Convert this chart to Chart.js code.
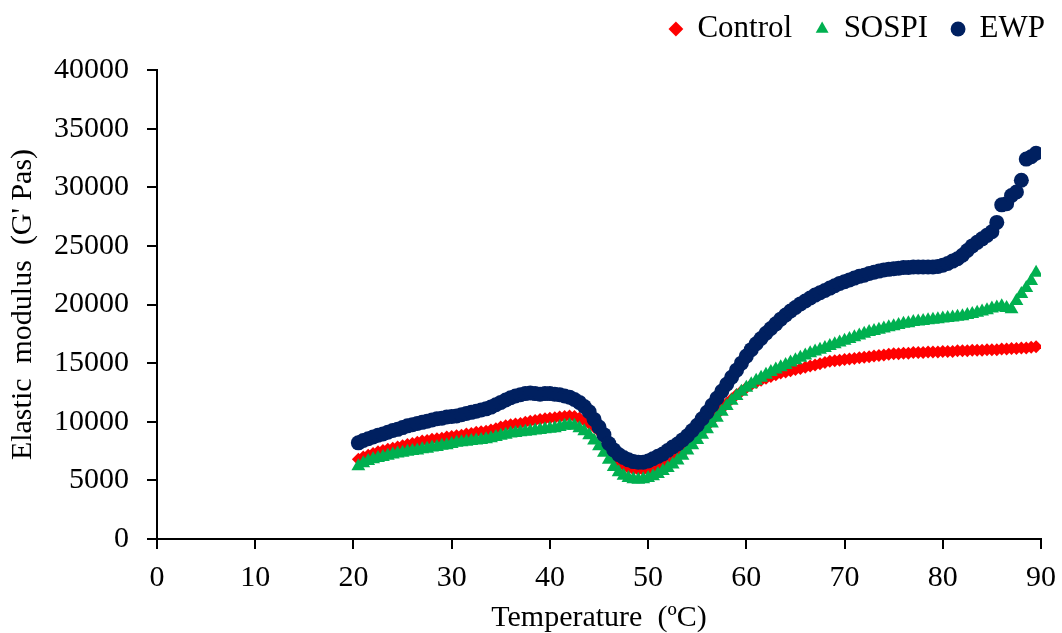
<!DOCTYPE html>
<html>
<head>
<meta charset="utf-8">
<script src="https://cdn.jsdelivr.net/npm/chart.js@4.4.1/dist/chart.umd.min.js"></script>
<style>
  html, body { margin: 0; padding: 0; background: #fff; }
</style>
</head>
<body>
<canvas id="modulusChart" width="1062" height="633"></canvas>
<script>
// temperature (ºC), one reading every 0.5 degree
const temps = [
  20.5, 21, 21.5, 22, 22.5, 23, 23.5, 24, 24.5, 25,
  25.5, 26, 26.5, 27, 27.5, 28, 28.5, 29, 29.5, 30,
  30.5, 31, 31.5, 32, 32.5, 33, 33.5, 34, 34.5, 35,
  35.5, 36, 36.5, 37, 37.5, 38, 38.5, 39, 39.5, 40,
  40.5, 41, 41.5, 42, 42.5, 43, 43.5, 44, 44.5, 45,
  45.5, 46, 46.5, 47, 47.5, 48, 48.5, 49, 49.5, 50,
  50.5, 51, 51.5, 52, 52.5, 53, 53.5, 54, 54.5, 55,
  55.5, 56, 56.5, 57, 57.5, 58, 58.5, 59, 59.5, 60,
  60.5, 61, 61.5, 62, 62.5, 63, 63.5, 64, 64.5, 65,
  65.5, 66, 66.5, 67, 67.5, 68, 68.5, 69, 69.5, 70,
  70.5, 71, 71.5, 72, 72.5, 73, 73.5, 74, 74.5, 75,
  75.5, 76, 76.5, 77, 77.5, 78, 78.5, 79, 79.5, 80,
  80.5, 81, 81.5, 82, 82.5, 83, 83.5, 84, 84.5, 85,
  85.5, 86, 86.5, 87, 87.5, 88, 88.5, 89, 89.5
];

const control = [
  6800, 7000, 7150, 7300, 7450, 7550, 7650, 7750, 7850, 7950,
  8050, 8150, 8250, 8350, 8400, 8500, 8550, 8600, 8700, 8750,
  8800, 8850, 8950, 9000, 9100, 9150, 9200, 9300, 9400, 9550,
  9650, 9750, 9800, 9850, 9950, 10050, 10100, 10200, 10250, 10300,
  10350, 10400, 10450, 10500, 10450, 10300, 10100, 9850, 9550, 9200,
  8600, 7900, 7200, 6700, 6300, 6050, 5950, 5900, 5900, 5900,
  5950, 6050, 6200, 6400, 6650, 7000, 7400, 7850, 8300, 8750,
  9200, 9650, 10150, 10650, 11100, 11550, 11950, 12300, 12600, 12900,
  13150, 13350, 13550, 13700, 13850, 14000, 14150, 14250, 14350, 14450,
  14550, 14650, 14750, 14850, 14950, 15050, 15150, 15200, 15250, 15300,
  15350, 15400, 15450, 15500, 15550, 15600, 15650, 15700, 15750, 15800,
  15800, 15850, 15850, 15900, 15900, 15900, 15950, 15950, 15950, 16000,
  16000, 16000, 16050, 16050, 16050, 16100, 16100, 16100, 16150, 16150,
  16150, 16200, 16200, 16250, 16250, 16300, 16300, 16350, 16400
];

const sospi = [
  6200, 6450, 6650, 6800, 6900, 7000, 7100, 7200, 7300, 7350,
  7450, 7500, 7550, 7650, 7700, 7800, 7850, 7950, 8000, 8100,
  8200, 8250, 8300, 8350, 8400, 8450, 8500, 8600, 8700, 8800,
  8900, 9000, 9050, 9100, 9150, 9200, 9250, 9300, 9350, 9400,
  9450, 9550, 9650, 9700, 9650, 9450, 9200, 8850, 8400, 7900,
  7350, 6750, 6150, 5700, 5400, 5200, 5100, 5050, 5100, 5200,
  5350, 5550, 5800, 6050, 6350, 6700, 7100, 7550, 8000, 8450,
  8900, 9350, 9850, 10350, 10850, 11350, 11800, 12200, 12550, 12900,
  13200, 13500, 13750, 14000, 14250, 14450, 14650, 14850, 15050, 15250,
  15450, 15650, 15850, 16000, 16150, 16300, 16450, 16600, 16750, 16900,
  17050, 17200, 17350, 17500, 17650, 17750, 17850, 17950, 18050, 18150,
  18250, 18350, 18400, 18500, 18550, 18600, 18650, 18700, 18750, 18800,
  18850, 18900, 18950, 19000, 19100, 19200, 19300, 19400, 19500, 19650,
  19750, 19850, 19700, 19600, 20300, 20900, 21400, 22000, 22700
];

const ewp = [
  8200, 8400, 8550, 8700, 8850, 8950, 9100, 9250, 9350, 9500,
  9650, 9750, 9850, 9950, 10050, 10150, 10250, 10300, 10400, 10450,
  10500, 10600, 10700, 10800, 10900, 11000, 11100, 11250, 11450, 11650,
  11850, 12050, 12200, 12300, 12400, 12450, 12400, 12350, 12400, 12400,
  12350, 12300, 12200, 12100, 11900, 11650, 11300, 10850, 10200, 9550,
  8900, 8150, 7600, 7200, 6950, 6750, 6600, 6550, 6550, 6650,
  6850, 7050, 7250, 7550, 7850, 8100, 8450, 8800, 9250, 9700,
  10250, 10800, 11400, 12000, 12600, 13200, 13800, 14400, 15000, 15600,
  16150, 16650, 17100, 17550, 17950, 18350, 18750, 19100, 19450, 19750,
  20050, 20300, 20550, 20800, 21000, 21200, 21400, 21600, 21800, 21950,
  22100, 22250, 22400, 22500, 22650, 22750, 22850, 22950, 23000, 23050,
  23100, 23150, 23150, 23200, 23200, 23200, 23200, 23200, 23250, 23350,
  23500, 23700, 23900, 24200, 24600, 25000, 25300, 25600, 25900, 26200,
  27000, 28500, 28600, 29300, 29600, 30600, 32400, 32600, 32900
];

function toPoints(values) {
  return temps.map((t, i) => ({ x: t, y: values[i] }));
}

Chart.defaults.font.family = "'Liberation Serif', 'Times New Roman', serif";
Chart.defaults.color = '#000';

// legend sits in the top right corner, above the plot
const legendPlace = {
  id: 'legendPlace',
  beforeInit(chart) {
    const fit = chart.legend.fit;
    chart.legend.fit = function() {
      fit.call(this);
      this.height = 70;
    };
  },
  afterLayout(chart) {
    chart.legend.top = -10.5;
    chart.legend.right = 1069;
  }
};

new Chart(document.getElementById('modulusChart').getContext('2d'), {
  type: 'scatter',
  data: {
    datasets: [
      {
        label: 'Control',
        data: toPoints(control),
        pointStyle: 'rectRot',
        pointRadius: 6.5,
        pointHoverRadius: 6.5,
        backgroundColor: '#ff0000',
        borderColor: '#ff0000',
        borderWidth: 0,
        order: 3
      },
      {
        label: 'SOSPI',
        data: toPoints(sospi),
        pointStyle: 'triangle',
        pointRadius: 8,
        pointHoverRadius: 8,
        backgroundColor: '#00b050',
        borderColor: '#00b050',
        borderWidth: 0,
        order: 2
      },
      {
        label: 'EWP',
        data: toPoints(ewp),
        pointStyle: 'circle',
        pointRadius: 7.5,
        pointHoverRadius: 7.5,
        backgroundColor: '#002060',
        borderColor: '#002060',
        borderWidth: 0,
        order: 1
      }
    ]
  },
  options: {
    responsive: false,
    animation: false,
    events: [],
    layout: { padding: { left: 0, right: 21, top: 0, bottom: 0 } },
    plugins: {
      tooltip: { enabled: false },
      legend: {
        position: 'top',
        align: 'end',
        labels: {
          usePointStyle: true,
          boxWidth: 12,
          boxHeight: 10.5,
          padding: 24,
          color: '#000',
          font: { size: 31 },
          sort: (a, b) => a.datasetIndex - b.datasetIndex
        }
      }
    },
    scales: {
      x: {
        type: 'linear',
        min: 0,
        max: 90,
        ticks: { stepSize: 10, color: '#000', font: { size: 30 }, padding: 11 },
        grid: { drawOnChartArea: false, drawTicks: true, tickLength: 10, color: '#000', lineWidth: 2 },
        border: { display: true, color: '#000', width: 2 },
        title: {
          display: true,
          text: 'Temperature  (ºC)',
          color: '#000',
          font: { size: 30, lineHeight: 1 },
          padding: { top: 0, bottom: 0 }
        },
        afterFit(scale) {
          scale.height = 94;
          scale.paddingLeft = 0;
          scale.paddingRight = 0;
        }
      },
      y: {
        type: 'linear',
        min: 0,
        max: 40000,
        ticks: {
          stepSize: 5000,
          color: '#000',
          font: { size: 30 },
          padding: 18,
          callback: v => String(v)
        },
        grid: { drawOnChartArea: false, drawTicks: true, tickLength: 10, color: '#000', lineWidth: 2 },
        border: { display: true, color: '#000', width: 2 },
        title: {
          display: true,
          text: "Elastic  modulus  (G' Pas)",
          color: '#000',
          font: { size: 30, lineHeight: 1 },
          padding: { top: 8, bottom: 0 }
        },
        afterFit(scale) { scale.width = 157; }
      }
    }
  },
  plugins: [legendPlace]
});
</script>
</body>
</html>
